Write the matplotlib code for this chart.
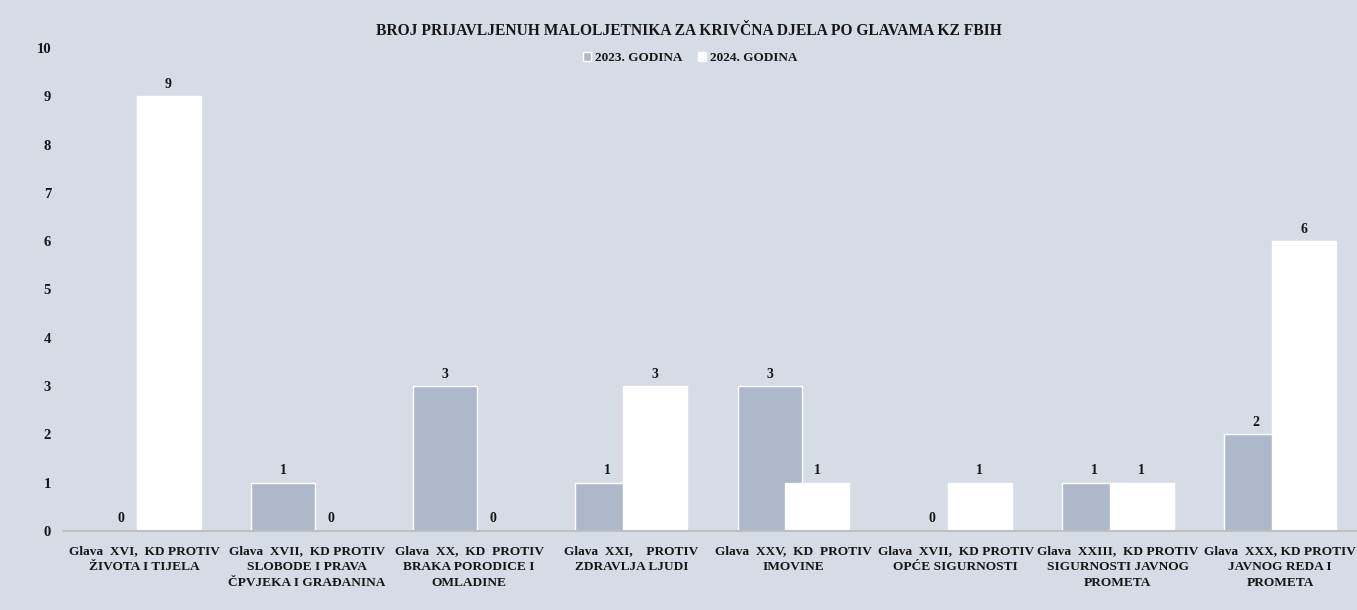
import matplotlib
matplotlib.use("Agg")
import matplotlib.pyplot as plt
import matplotlib.transforms as mtransforms
import numpy as np

categories = [
    "Glava  XVI,  KD PROTIV\nŽIVOTA I TIJELA",
    "Glava  XVII,  KD PROTIV\nSLOBODE I PRAVA\nČPVJEKA I GRAĐANINA",
    "Glava  XX,  KD  PROTIV\nBRAKA PORODICE I\nOMLADINE",
    "Glava  XXI,    PROTIV\nZDRAVLJA LJUDI",
    "Glava  XXV,  KD  PROTIV\nIMOVINE",
    "Glava  XVII,  KD PROTIV\nOPĆE SIGURNOSTI",
    "Glava  XXIII,  KD PROTIV\nSIGURNOSTI JAVNOG\nPROMETA",
    "Glava  XXX, KD PROTIV\nJAVNOG REDA I\nPROMETA",
]
series_names = ["2023. GODINA", "2024. GODINA"]
values_2023 = [0, 1, 3, 1, 3, 0, 1, 2]
values_2024 = [9, 0, 0, 3, 1, 1, 1, 6]
yticks = list(range(0, 11))
title = "BROJ PRIJAVLJENUH MALOLJETNIKA ZA KRIVČNA DJELA PO GLAVAMA KZ FBIH"

BG = "#D6DCE5"
C23 = "#ADB9CA"
C24 = "#FFFFFF"
TXT = "#161616"
FONT = "Liberation Serif"

plt.rcParams["font.family"] = [FONT, "DejaVu Serif"]
plt.rcParams["font.weight"] = "bold"

W, H = 1357, 610
fig = plt.figure(figsize=(W / 100, H / 100), dpi=100, facecolor=BG)
left_px, right_px, bottom_px, top_px = 63.6, W, 531, 48
group_px = 162.2
ax = fig.add_axes([left_px / W, (H - bottom_px) / H, (right_px - left_px) / W, (bottom_px - top_px) / H])
ax.set_facecolor(BG)

x = np.arange(len(categories))
w = 0.395
off = 0.147
b1 = ax.bar(x - off, values_2023, w, color=C23, edgecolor="white", linewidth=1.0,
            label=series_names[0], zorder=2)
b2 = ax.bar(x + off, values_2024, w, color=C24, edgecolor="white", linewidth=1.0,
            label=series_names[1], zorder=3)

for bars, vals in ((b1, values_2023), (b2, values_2024)):
    for r, v in zip(bars, vals):
        ax.annotate(str(v), (r.get_x() + r.get_width() / 2, v), xytext=(0, 4),
                    textcoords="offset points", ha="center", va="bottom",
                    fontsize=10, fontweight="bold", color=TXT, zorder=5)

ax.set_xlim(-0.5, -0.5 + (right_px - left_px) / group_px)
ax.set_ylim(0, 10)
ax.set_yticks(yticks)
ax.set_yticklabels([str(t) for t in yticks], fontsize=10.5, fontweight="bold", color=TXT)
ax.set_xticks(x)
ax.set_xticklabels(categories, fontsize=9.6, fontweight="bold", color=TXT, linespacing=1.45)
shift = mtransforms.ScaledTranslation(-3 / 100, 0, fig.dpi_scale_trans)
for lbl in ax.get_xticklabels():
    lbl.set_transform(lbl.get_transform() + shift)
ax.tick_params(axis="both", length=0)
ax.tick_params(axis="y", pad=9)
ax.tick_params(axis="x", pad=10)
for s in ["top", "right", "left"]:
    ax.spines[s].set_visible(False)
ax.spines["bottom"].set_color("#BFBFBF")
ax.spines["bottom"].set_linewidth(1.5)
ax.spines["bottom"].set_zorder(4)

fig.text(689 / W, 1 - 31 / H, title, ha="center", va="center", fontsize=11.2,
         fontweight="bold", color=TXT)
leg = fig.legend(handles=[b1, b2], labels=series_names, loc="center",
                 bbox_to_anchor=(690 / W, 1 - 58 / H), ncol=2, frameon=False, fontsize=9.5,
                 handlelength=0.6, handleheight=0.6, handletextpad=0.3, columnspacing=1.2)
for t in leg.get_texts():
    t.set_fontweight("bold")
    t.set_color(TXT)

fig.savefig("out.png", dpi=100, facecolor=BG)
